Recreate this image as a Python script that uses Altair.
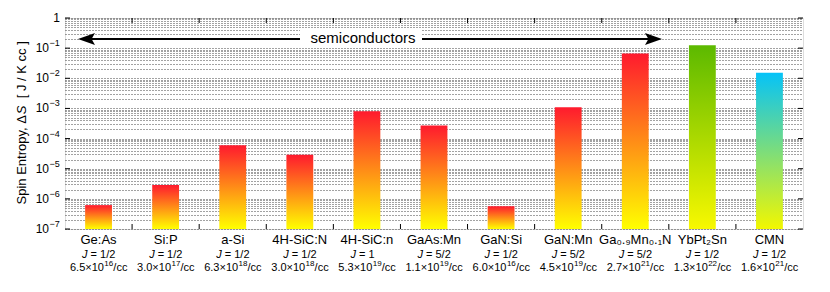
import altair as alt
import pandas as pd

# ---- data ----
names = ["Ge:As", "Si:P", "a-Si", "4H-SiC:N", "4H-SiC:n", "GaAs:Mn", "GaN:Si",
         "GaN:Mn", "Ga₀.₉Mn₀.₁N", "YbPt₂Sn", "CMN"]
spin_entropy = [6.2e-7, 2.9e-6, 6.0e-5, 2.9e-5, 8.0e-4, 2.7e-4, 5.7e-7,
                1.1e-3, 6.7e-2, 1.24e-1, 1.53e-2]
groups = ["semi"] * 9 + ["yb", "cmn"]
spin_j = ["1/2", "1/2", "1/2", "1/2", "1", "5/2", "1/2", "5/2", "5/2", "1/2", "1/2"]
dens_mantissa = ["6.5", "3.0", "6.3", "3.0", "5.3", "1.1", "6.0", "4.5", "2.7", "1.3", "1.6"]
dens_exponent = ["16", "17", "18", "18", "19", "19", "16", "19", "21", "22", "21"]
decade_exp = [-7, -6, -5, -4, -3, -2, -1, 0]
minor_mult = [1, 2, 3, 4, 5, 6, 7, 8, 9]
title_parts = ["Spin Entropy, Δ", "S", "[ J / K cc ]"]

FONT = "Liberation Sans"
W, H = 738, 211

decades = [10.0 ** e for e in decade_exp]
df = pd.DataFrame({"name": names, "value": spin_entropy, "group": groups,
                   "J": ["= " + j for j in spin_j],
                   "mant": [m + "×10" for m in dens_mantissa],
                   "exp": dens_exponent})
dec_df = pd.DataFrame({"value": decades,
                       "base": ["10" if e < 0 else "1" for e in decade_exp],
                       "sup": ["−" + str(-e) if e < 0 else "" for e in decade_exp],
                       "neg": [e < 0 for e in decade_exp]})
bound_df = pd.DataFrame({"name": names[1:]})
one = pd.DataFrame({"a": [0]})

yvals = [m * d for d in decades[:-1] for m in minor_mult] + [1.0]

yscale = alt.Scale(type="log", domain=[1e-7, 1], nice=False)
yaxis = alt.Axis(values=yvals, labels=False, grid=True, gridDash=[1, 2],
                 gridColor="#444", gridWidth=1, ticks=False, domain=False,
                 title=None)
y_enc = alt.Y("value:Q", scale=yscale, axis=yaxis)
x_enc = alt.X("name:N", sort=names,
              scale=alt.Scale(paddingInner=0.6, paddingOuter=0.3), axis=None)


def grad(top, bottom):
    return alt.Gradient(gradient="linear",
                        stops=[alt.GradientStop(color=top, offset=0),
                               alt.GradientStop(color=bottom, offset=1)],
                        x1=0, x2=0, y1=0, y2=1)


def bars(grp, top, bottom):
    return (alt.Chart(df).transform_filter(alt.datum.group == grp)
            .mark_bar(color=grad(top, bottom))
            .encode(x=x_enc, y=y_enc, y2=alt.datum(1e-7)))


bar_semi = bars("semi", "#ff1a2e", "#ffff00")
bar_yb = bars("yb", "#5cb900", "#f8f800")
bar_cmn = bars("cmn", "#05c3f8", "#f2f700")

# y tick labels: "10" with raised exponent, and "1" at the top
ylab_ten = alt.Chart(dec_df).transform_filter(alt.datum.neg).mark_text(
    font=FONT, fontSize=12, align="right", baseline="middle",
    color="black").encode(y=y_enc, text="base:N", x=alt.value(-16))
ylab_one = alt.Chart(dec_df).transform_filter("!datum.neg").mark_text(
    font=FONT, fontSize=12, align="right", baseline="middle",
    color="black").encode(y=y_enc, text="base:N", x=alt.value(-5))
ylab_sup = alt.Chart(dec_df).transform_filter(alt.datum.neg).mark_text(
    font=FONT, fontSize=9, align="left", baseline="middle", dy=-5,
    color="black").encode(y=y_enc, text="sup:N", x=alt.value(-15.5))

# y title, rotated, with italic S (Arial/Liberation metrics, 13px)
TFS = 13
t_y0 = H / 2 + 81          # bottom start of the rotated title
w1 = 6.949 * TFS           # width of "Spin Entropy, Δ"
w2 = 0.667 * TFS           # width of italic "S"
gap = 0.556 * TFS          # two spaces before the unit
title1 = alt.Chart(one).mark_text(text=title_parts[0], font=FONT, fontSize=TFS,
                                  angle=270, align="left", baseline="middle",
                                  color="black").encode(
    x=alt.value(-43), y=alt.value(t_y0))
title2 = alt.Chart(one).mark_text(text=title_parts[1], font=FONT, fontSize=TFS,
                                  fontStyle="italic", angle=270, align="left",
                                  baseline="middle", color="black").encode(
    x=alt.value(-43), y=alt.value(t_y0 - w1))
title3 = alt.Chart(one).mark_text(text=title_parts[2], font=FONT, fontSize=TFS,
                                  angle=270, align="left", baseline="middle",
                                  color="black").encode(
    x=alt.value(-43), y=alt.value(t_y0 - w1 - w2 - gap))

# inward ticks on left/right at decades
tick_l = alt.Chart(dec_df).mark_rule(color="black").encode(
    y=y_enc, x=alt.value(0), x2=alt.value(5))
tick_r = alt.Chart(dec_df).mark_rule(color="black").encode(
    y=y_enc, x=alt.value(W - 5), x2=alt.value(W))
# inward ticks top/bottom at category boundaries
half_step = -W / len(names) / 2
tick_b = alt.Chart(bound_df).mark_rule(color="black", xOffset=half_step).encode(
    x=x_enc, y=alt.value(H - 5), y2=alt.value(H))
tick_t = alt.Chart(bound_df).mark_rule(color="black", xOffset=half_step).encode(
    x=x_enc, y=alt.value(0), y2=alt.value(5))

# category labels (three lines)
lab_name = alt.Chart(df).mark_text(font=FONT, fontSize=13, baseline="alphabetic",
                                   color="black").encode(
    x=x_enc, y=alt.value(H + 15), text="name:N")
lab_jsym = alt.Chart(df).mark_text(font=FONT, fontSize=11, fontStyle="italic",
                                   baseline="alphabetic", align="right", dx=-11,
                                   color="black", text="J").encode(
    x=x_enc, y=alt.value(H + 29))
lab_jval = alt.Chart(df).mark_text(font=FONT, fontSize=11, baseline="alphabetic",
                                   align="left", dx=-8, color="black").encode(
    x=x_enc, y=alt.value(H + 29), text="J:N")
lab_mant = alt.Chart(df).mark_text(font=FONT, fontSize=11, baseline="alphabetic",
                                   align="right", dx=5.4, color="black").encode(
    x=x_enc, y=alt.value(H + 41.5), text="mant:N")
lab_exp = alt.Chart(df).mark_text(font=FONT, fontSize=8, baseline="alphabetic",
                                  align="left", dx=5.8, color="black").encode(
    x=x_enc, y=alt.value(H + 37), text="exp:N")
lab_cc = alt.Chart(df).mark_text(font=FONT, fontSize=11, baseline="alphabetic",
                                 align="left", dx=14.8, color="black",
                                 text="/cc").encode(
    x=x_enc, y=alt.value(H + 41.5))

# "semiconductors" double arrow
arrow_line = alt.Chart(one).mark_rule(color="black", strokeWidth=2).encode(
    x=alt.value(20), x2=alt.value(590), y=alt.datum(0.2))
head_l = alt.Chart(one).mark_point(shape="M0,0 L2,-0.7 L1.6,0 L2,0.7 Z", size=289,
                                   filled=True, color="black", opacity=1,
                                   strokeWidth=0).encode(
    x=alt.value(13), y=alt.datum(0.2))
head_r = alt.Chart(one).mark_point(shape="M0,0 L-2,-0.7 L-1.6,0 L-2,0.7 Z", size=289,
                                   filled=True, color="black", opacity=1,
                                   strokeWidth=0).encode(
    x=alt.value(597), y=alt.datum(0.2))
white_box = alt.Chart(one).mark_rect(color="white").encode(
    x=alt.value(235), x2=alt.value(357), y=alt.value(10), y2=alt.value(29))
semi_text = alt.Chart(one).mark_text(text="semiconductors", font=FONT, fontSize=15,
                                     baseline="alphabetic", align="center", dy=3.5,
                                     color="black").encode(
    x=alt.value(298), y=alt.datum(0.2))

chart = alt.layer(
    bar_semi, bar_yb, bar_cmn, tick_l, tick_r, tick_b, tick_t,
    arrow_line, white_box, semi_text, head_l, head_r,
    ylab_ten, ylab_one, ylab_sup, title1, title2, title3,
    lab_name, lab_jsym, lab_jval, lab_mant, lab_exp, lab_cc,
).properties(
    width=W, height=H, autosize=alt.AutoSizeParams(type="none"),
    padding={"left": 57, "top": 10, "right": 19, "bottom": 55},
).configure_view(stroke="black", strokeWidth=1).configure(font=FONT)

chart.save("out.html", embed_options={"renderer": "svg", "actions": False})
